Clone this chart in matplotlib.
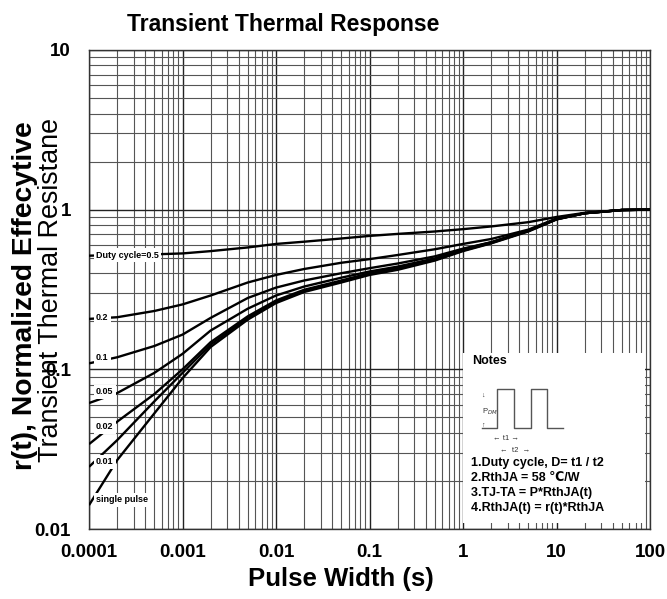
import numpy as np
import matplotlib
matplotlib.use("Agg")
import matplotlib.pyplot as plt
from matplotlib import font_manager
from matplotlib.patches import Rectangle
from matplotlib.lines import Line2D

# ---------------- data ----------------
pulse_width = [1e-4, 2e-4, 5e-4, 1e-3, 2e-3, 5e-3, 1e-2, 2e-2, 5e-2, 0.1, 0.2, 0.5,
               1, 2, 5, 10, 20, 50, 100]
r_d05 = [0.515, 0.52, 0.525, 0.532, 0.55, 0.58, 0.61, 0.63, 0.66, 0.685, 0.705, 0.73,
         0.755, 0.785, 0.835, 0.9, 0.955, 0.995, 1.0]
r_d02 = [0.207, 0.212, 0.232, 0.255, 0.29, 0.35, 0.39, 0.425, 0.465, 0.49, 0.52, 0.565,
         0.61, 0.655, 0.75, 0.88, 0.95, 0.995, 1.0]
r_d01 = [0.109, 0.119, 0.14, 0.165, 0.21, 0.28, 0.325, 0.36, 0.40, 0.43, 0.46, 0.51,
         0.57, 0.625, 0.74, 0.875, 0.95, 0.995, 1.0]
r_d005 = [0.0615, 0.071, 0.095, 0.125, 0.175, 0.24, 0.29, 0.33, 0.375, 0.41, 0.44, 0.495,
          0.565, 0.625, 0.74, 0.875, 0.95, 0.995, 1.0]
r_d002 = [0.034, 0.047, 0.07, 0.10, 0.148, 0.215, 0.27, 0.315, 0.36, 0.40, 0.43, 0.49,
          0.56, 0.622, 0.738, 0.872, 0.95, 0.995, 1.0]
r_d001 = [0.0245, 0.036, 0.063, 0.095, 0.143, 0.21, 0.265, 0.31, 0.355, 0.395, 0.425, 0.485,
          0.555, 0.618, 0.735, 0.87, 0.95, 0.995, 1.0]
r_single = [0.0141, 0.027, 0.053, 0.088, 0.138, 0.205, 0.26, 0.305, 0.35, 0.39, 0.42, 0.48,
            0.55, 0.615, 0.73, 0.868, 0.95, 0.995, 1.0]

series = [r_d05, r_d02, r_d01, r_d005, r_d002, r_d001, r_single]
series_labels = ["Duty cycle=0.5", "0.2", "0.1", "0.05", "0.02", "0.01", "single pulse"]
label_r = [0.52, 0.21, 0.118, 0.0722, 0.0436, 0.0263, 0.0152]

x_ticks = [1e-4, 1e-3, 1e-2, 1e-1, 1, 10, 100]
x_ticklabels = ["0.0001", "0.001", "0.01", "0.1", "1", "10", "100"]
y_ticks = [0.01, 0.1, 1, 10]
y_ticklabels = ["0.01", "0.1", "1", "10"]

notes_lines = ["1.Duty cycle, D= t1 / t2", "2.RthJA = 58 \u2103/W",
               "3.TJ-TA = P*RthJA(t)", "4.RthJA(t) = r(t)*RthJA"]

# ---------------- fonts ----------------
avail = {f.name for f in font_manager.fontManager.ttflist}
base = ["Liberation Sans", "DejaVu Sans"]
narrow_ok = "Liberation Sans Narrow" in avail
narrow = (["Liberation Sans Narrow"] if narrow_ok else []) + base
plt.rcParams["font.family"] = base

W, H = 667, 599
fig = plt.figure(figsize=(W / 100, H / 100), dpi=100)
L, R, T, B = 89, 650, 50, 529
ax = fig.add_axes([L / W, 1 - B / H, (R - L) / W, (B - T) / H])

ax.set_xscale("log")
ax.set_yscale("log")
ax.set_xlim(1e-4, 100)
ax.set_ylim(0.01, 10)
ax.set_axisbelow(True)
ax.grid(True, which="major", color="#222222", lw=1.0)
ax.grid(True, which="minor", color="#555555", lw=0.8)
for s in ax.spines.values():
    s.set_color("#333333")
    s.set_linewidth(1.0)

ax.set_xticks(x_ticks)
ax.set_xticklabels(x_ticklabels)
ax.set_yticks(y_ticks)
ax.set_yticklabels(y_ticklabels)
ax.tick_params(which="both", length=0)
ax.tick_params(axis="x", pad=11, labelsize=13.5)
ax.tick_params(axis="y", pad=13, labelsize=13.5)
for lab in ax.get_xticklabels() + ax.get_yticklabels():
    lab.set_fontweight("bold")

for ys in series:
    ax.plot(pulse_width, ys, color="black", lw=1.7, zorder=3, solid_capstyle="butt")

for txt, ly in zip(series_labels, label_r):
    ax.text(1.19e-4, ly, txt, fontsize=6.5, fontweight="bold", ha="left", va="center",
            family=narrow, zorder=5,
            bbox=dict(boxstyle="square,pad=0.25", fc="white", ec="none"))

# Notes box
def fx(px):
    return px / W

def fy(py):
    return 1 - py / H

fig.add_artist(Rectangle((fx(463), fy(523)), fx(645) - fx(463), fy(353) - fy(523),
                         transform=fig.transFigure, fc="white", ec="none", zorder=2))
fig.text(fx(472), fy(361), "Notes", fontsize=9, fontweight="bold", ha="left", va="center",
         zorder=4)

px = [482, 497, 497, 514, 514, 531, 531, 547, 547, 563]
py = [428, 428, 389, 389, 428, 428, 389, 389, 428, 428]
fig.add_artist(Line2D([fx(v) for v in px], [fy(v) for v in py], transform=fig.transFigure,
                      color="#555555", lw=1.0, zorder=4))
fig.text(fx(482), fy(412), "P$_{DM}$", fontsize=5.5, ha="left", va="center", color="#333333",
         zorder=4)
fig.text(fx(483), fy(395), "\u2193", fontsize=5, ha="center", va="center", color="#333333",
         zorder=4)
fig.text(fx(483), fy(425), "\u2191", fontsize=5, ha="center", va="center", color="#333333",
         zorder=4)
fig.text(fx(506), fy(439), "\u2190 t1 \u2192", fontsize=5.5, ha="center", va="center",
         color="#333333", zorder=4)
fig.text(fx(515), fy(451), "\u2190  t2  \u2192", fontsize=5.5, ha="center", va="center",
         color="#333333", zorder=4)
for i, line in enumerate(notes_lines):
    fig.text(fx(471), fy(463 + 15 * i), line, fontsize=9, fontweight="bold",
             ha="left", va="center", zorder=4)

# titles / labels
fig.text(fx(283), fy(25), "Transient Thermal Response", fontsize=19 if narrow_ok else 16.5,
         fontweight="bold", ha="center", va="center", family=narrow)
fig.text(fx(341), fy(579), "Pulse Width (s)", fontsize=18.5, fontweight="bold",
         ha="center", va="center")
fig.text(fx(25), fy(296), "r(t), Normalized Effecytive", fontsize=20.3, fontweight="bold",
         rotation=90, ha="center", va="center")
fig.text(fx(51), fy(290), "Transient Thermal Resistane", fontsize=19.4, rotation=90,
         ha="center", va="center")

fig.savefig("out.png", dpi=100)
